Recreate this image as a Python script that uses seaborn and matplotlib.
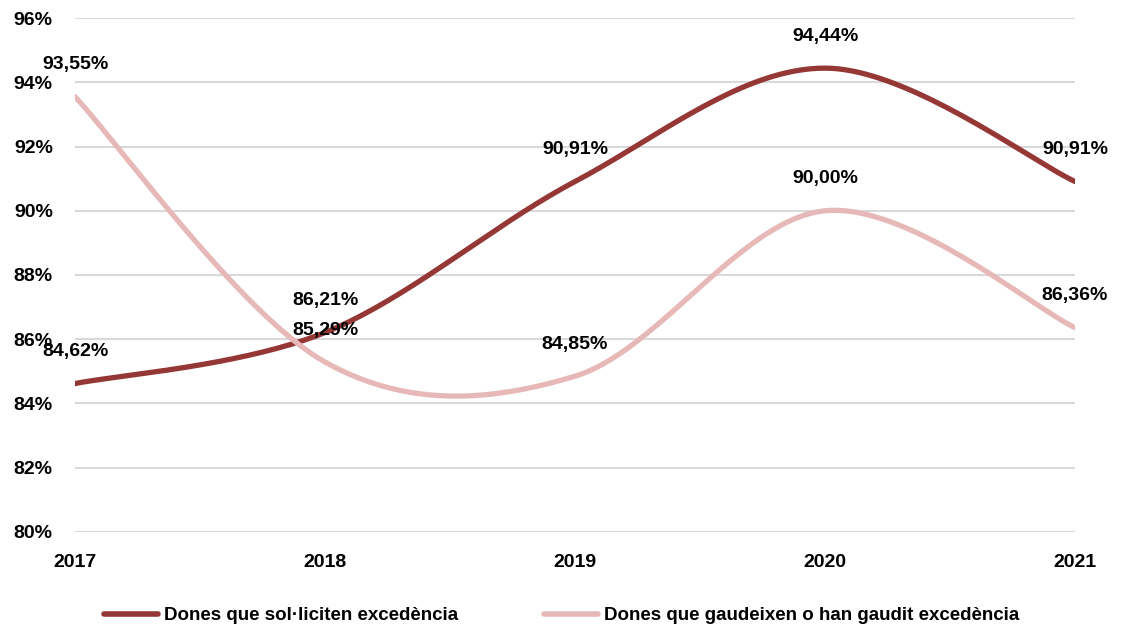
import matplotlib
matplotlib.use("Agg")
import matplotlib.pyplot as plt
import numpy as np
import pandas as pd
import seaborn as sns

years = [2017, 2018, 2019, 2020, 2021]
sollicitud = [84.62, 86.21, 90.91, 94.44, 90.91]
gaudeixen = [93.55, 85.29, 84.85, 90.00, 86.36]
series_names = ["Dones que sol·liciten excedència",
                "Dones que gaudeixen o han gaudit excedència"]
y_ticks = [80, 82, 84, 86, 88, 90, 92, 94, 96]

COLORS = {series_names[0]: "#953735", series_names[1]: "#E6B9B8"}


def smooth(xs, ys, steps=40):
    """Línia suavitzada a l'estil d'Excel (Bézier amb tangents Catmull-Rom)."""
    p = np.column_stack([xs, ys]).astype(float)
    ext = np.vstack([p[0], p, p[-1]])
    out = []
    for i in range(len(p) - 1):
        p0, p1, p2, p3 = ext[i], ext[i + 1], ext[i + 2], ext[i + 3]
        c1 = p1 + (p2 - p0) / 6
        c2 = p2 - (p3 - p1) / 6
        t = np.linspace(0, 1, steps)[:, None]
        seg = ((1 - t) ** 3) * p1 + 3 * ((1 - t) ** 2) * t * c1 \
            + 3 * (1 - t) * t ** 2 * c2 + t ** 3 * p2
        out.append(seg if i == 0 else seg[1:])
    return np.vstack(out)


sns.set_theme(style="white")
plt.rcParams["font.family"] = ["Liberation Sans", "DejaVu Sans"]
plt.rcParams["text.color"] = "black"
plt.rcParams["xtick.color"] = "black"
plt.rcParams["ytick.color"] = "black"
FS = 14

frames = []
for name, vals in zip(series_names, [sollicitud, gaudeixen]):
    curve = smooth(years, vals)
    frames.append(pd.DataFrame({"any": curve[:, 0], "pct": curve[:, 1],
                                "serie": name}))
df = pd.concat(frames, ignore_index=True)

fig = plt.figure(figsize=(11.23, 6.3), dpi=100)
ax = fig.add_axes([0.0668, 0.1556, 0.8905, 0.8158])

for y in y_ticks:
    ax.axhline(y, color="#D9D9D9", linewidth=1.5, zorder=0)

sns.lineplot(data=df, x="any", y="pct", hue="serie", palette=COLORS,
             hue_order=series_names, linewidth=3.8, sort=False,
             estimator=None, ax=ax, legend=False)

for vals in [sollicitud, gaudeixen]:
    for x, v in zip(years, vals):
        ax.annotate(f"{v:.2f}%".replace(".", ","), (x, v),
                    xytext=(0, 23), textcoords="offset points",
                    ha="center", va="center", fontsize=FS,
                    fontweight="bold", color="black")

ax.set_xlim(years[0], years[-1])
ax.set_ylim(80, 96)
ax.set_xticks(years)
ax.set_xticklabels([str(y) for y in years], fontsize=FS, fontweight="bold")
ax.set_yticks(y_ticks)
ax.set_yticklabels([f"{y}%" for y in y_ticks], fontsize=FS, fontweight="bold")
ax.tick_params(axis="x", length=0, pad=16)
ax.tick_params(axis="y", length=0, pad=16)
ax.set_xlabel("")
ax.set_ylabel("")
sns.despine(ax=ax, left=True, bottom=True)

handles = [plt.Line2D([], [], color=COLORS[n], linewidth=4) for n in series_names]
fig.legend(handles, series_names, loc="lower center", bbox_to_anchor=(0.5, -0.018),
           ncol=2, frameon=False, handlelength=2.9, handletextpad=0.3,
           columnspacing=4.6, prop={"size": 13.5, "weight": "bold"})

fig.savefig("out.png", dpi=100)
